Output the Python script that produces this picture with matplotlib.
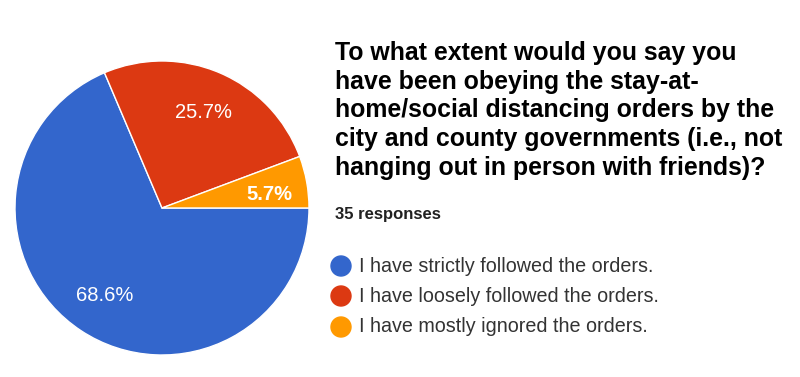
import matplotlib.pyplot as plt
from matplotlib.patches import Ellipse

# survey answers (35 responses)
labels = ["I have strictly followed the orders.",
          "I have loosely followed the orders.",
          "I have mostly ignored the orders."]
shares = [68.6, 25.7, 5.7]
colors = ["#3366CC", "#DC3912", "#FF9900"]
title = ("To what extent would you say you\n"
         "have been obeying the stay-at-\n"
         "home/social distancing orders by the\n"
         "city and county governments (i.e., not\n"
         "hanging out in person with friends)?")
responses = "35 responses"

plt.rcParams['font.family'] = ['Liberation Sans', 'DejaVu Sans']

W, H = 800, 377
fig = plt.figure(figsize=(W / 100, H / 100), dpi=100)

# pie axes placed in pixel units: centre (162, 208), radius 147
cx, cy, r = 162, 208, 147
ax = fig.add_axes([(cx - r) / W, (H - cy - r) / H, 2 * r / W, 2 * r / H])
wedges, texts, autotexts = ax.pie(
    shares, colors=colors, startangle=0, counterclock=False,
    autopct="%.1f%%", pctdistance=0.71,
    wedgeprops=dict(edgecolor="white", linewidth=1),
    textprops=dict(color="white", fontsize=14.5))
# the small slice gets a bold label, pushed a bit outwards
autotexts[2].set_fontweight("bold")
x, y = autotexts[2].get_position()
autotexts[2].set_position((x * 1.05, y * 0.75))
ax.set_xlim(-1, 1)
ax.set_ylim(-1, 1)
ax.set_aspect("equal")
ax.axis("off")

# title and response count
fig.text(335 / W, 1 - 41 / H, title, ha="left", va="top", fontsize=17.9,
         fontweight="bold", color="black", linespacing=1.245)
fig.text(335 / W, 1 - 215 / H, responses, ha="left", va="center",
         fontsize=12, fontweight="bold", color="#212121")

# legend, drawn by hand to match the form layout
leg_y = [266, 296, 327]
for lab, col, yy in zip(labels, colors, leg_y):
    fig.patches.append(Ellipse((341 / W, 1 - yy / H), 20 / W, 20 / H,
                               transform=fig.transFigure, color=col))
    fig.text(359 / W, 1 - yy / H, lab, ha="left", va="center",
             fontsize=14.2, color="#333333")

fig.savefig("out.png", dpi=100)
